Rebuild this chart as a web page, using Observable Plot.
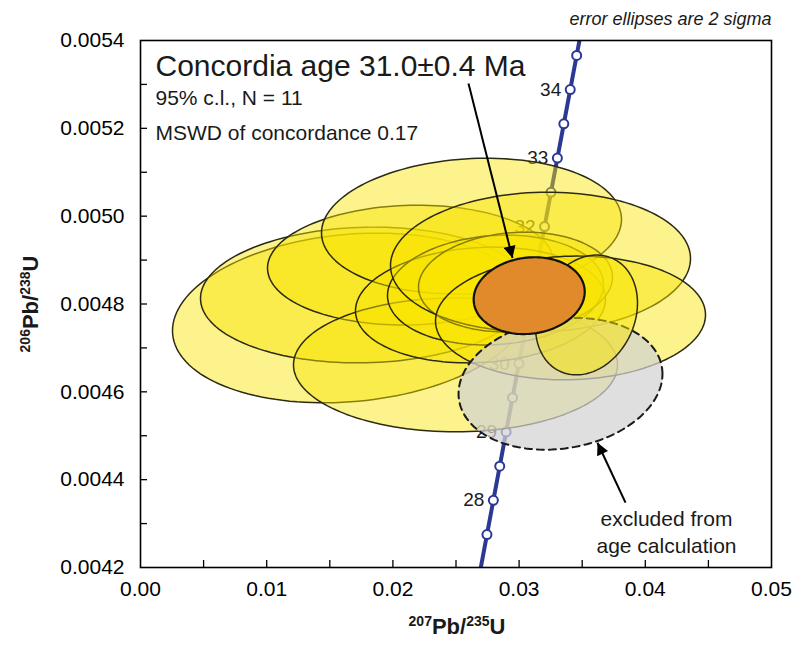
<!DOCTYPE html>
<html><head><meta charset="utf-8">
<script src="https://cdn.jsdelivr.net/npm/d3@7"></script>
<script src="https://cdn.jsdelivr.net/npm/@observablehq/plot@0.6"></script>
<style>
body{margin:0;background:#fff;}
#chart{width:793px;height:646px;}
</style></head><body><div id="chart"></div>
<script>
// Axis ticks
const xTicks = [0, 0.01, 0.02, 0.03, 0.04, 0.05];
const xAllTicks = [0.005, 0.01, 0.015, 0.02, 0.025, 0.03, 0.035, 0.04, 0.045];
const yTicks = [0.0042, 0.0044, 0.0046, 0.0048, 0.0050, 0.0052, 0.0054];
const yAllTicks = [0.0043, 0.0044, 0.0045, 0.0046, 0.0047, 0.0048, 0.0049, 0.0050, 0.0051, 0.0052, 0.0053];

// Concordia curve (age in Ma, 207Pb/235U, 206Pb/238U)
const concAges = [27.0, 27.5, 28.0, 28.5, 29.0, 29.5, 30.0, 30.5, 31.0, 31.5, 32.0, 32.5, 33.0, 33.5, 34.0, 34.5, 35.0];
const concX = [0.026948, 0.027453, 0.027960, 0.028466, 0.028972, 0.029479, 0.029986, 0.030494, 0.031001, 0.031509, 0.032017, 0.032525, 0.033034, 0.033543, 0.034052, 0.034561, 0.035071];
const concY = [0.0041972, 0.0042750, 0.0043529, 0.0044308, 0.0045088, 0.0045867, 0.0046646, 0.0047425, 0.0048204, 0.0048984, 0.0049763, 0.0050543, 0.0051322, 0.0052102, 0.0052882, 0.0053661, 0.0054441];
const markerAges = [27.5, 28.0, 28.5, 29.0, 29.5, 30.0, 30.5, 31.0, 31.5, 32.0, 32.5, 33.0, 33.5, 34.0, 34.5];
const labelAges = [28, 29, 30, 31, 32, 33, 34];

// Error ellipses (2 sigma): centre x, centre y, half-width x, half-height y, rho
const ellipseCx  = [0.016640, 0.017829, 0.021395, 0.026228, 0.024960, 0.026941, 0.028130, 0.029715, 0.031696, 0.034073];
const ellipseCy  = [0.0047682, 0.0048205, 0.0048886, 0.0049773, 0.0046614, 0.0047977, 0.0048318, 0.0048500, 0.0048955, 0.0047682];
const ellipseSx  = [0.014105, 0.013074, 0.011331, 0.011886, 0.012837, 0.009905, 0.008558, 0.007686, 0.011886, 0.010697];
const ellipseSy  = [0.00019318, 0.00015455, 0.00013636, 0.00015455, 0.00015227, 0.00013182, 0.000125, 0.00011364, 0.00015909, 0.00014091];
const ellipseRho = [0.15, 0.05, 0.05, 0.10, 0.0, 0.10, 0.10, 0.10, 0.05, 0.05];
// Ellipse drawn above the excluded one
const topEllipse = [0.035341, 0.0047750, 0.004041, 0.00013636, 0.2];

// Excluded analysis
const excluded = [0.033281, 0.0046182, 0.00808, 0.00015, 0.15];
// Concordia age ellipse
const concordiaAge = [0.030800, 0.0048190, 0.00440, 0.0000875, 0.10];

// Annotations
const arrowX1 = [0.02599, 0.038431];
const arrowY1 = [0.0053023, 0.0043477];
const arrowX2 = [0.029477, 0.036212];
const arrowY2 = [0.0049045, 0.0044841];
const noteText = ["excluded from\nage calculation"];
const noteX = [0.04168];
const noteY = [0.0042830];

function ellipsePoints(cx, cy, sx, sy, rho) {
  const pts = [];
  cx.forEach((_, i) => {
    const k = Math.sqrt(1 - rho[i] * rho[i]);
    for (let j = 0; j < 144; j++) {
      const t = 2 * Math.PI * j / 144;
      pts.push({id: i, x: cx[i] + sx[i] * Math.cos(t), y: cy[i] + sy[i] * (rho[i] * Math.cos(t) + k * Math.sin(t))});
    }
  });
  return pts;
}
const one = e => ellipsePoints([e[0]], [e[1]], [e[2]], [e[3]], [e[4]]);
const yellowPts = ellipsePoints(ellipseCx, ellipseCy, ellipseSx, ellipseSy, ellipseRho);
const topPts = one(topEllipse);
const grayPts = one(excluded);
const orangePts = one(concordiaAge);

const conc = concAges.map((a, i) => ({age: a, x: concX[i], y: concY[i]}));
const markers = conc.filter(d => markerAges.includes(d.age));
const labels = conc.filter(d => labelAges.includes(d.age));
const arrows = arrowX1.map((d, i) => ({x1: d, y1: arrowY1[i], x2: arrowX2[i], y2: arrowY2[i]}));
const notes = noteText.map((t, i) => ({text: t, x: noteX[i], y: noteY[i]}));

const blue = "#2b3994";
const font = "'Liberation Sans', Arial, sans-serif";
const yellowStyle = {x: "x", y: "y", z: "id", fill: "#F8E400", fillOpacity: 0.45, stroke: "#2d2a14", strokeWidth: 1.5, curve: "linear-closed"};

const plot = Plot.plot({
  width: 793, height: 646,
  marginLeft: 140, marginRight: 22, marginTop: 40, marginBottom: 79,
  x: {domain: [0, 0.05]},
  y: {domain: [0.0042, 0.0054]},
  style: {fontFamily: font, background: "white", color: "black"},
  marks: [
    Plot.line(conc, {x: "x", y: "y", stroke: blue, strokeWidth: 4, clip: true}),
    Plot.dot(markers, {x: "x", y: "y", r: 4.5, fill: "white", stroke: blue, strokeWidth: 2}),
    Plot.text(labels, {x: "x", y: "y", text: d => String(d.age), dx: -9, textAnchor: "end", fontSize: 19, fill: "#1a1a1a"}),
    Plot.line(yellowPts, yellowStyle),
    Plot.line(grayPts, {x: "x", y: "y", z: "id", fill: "#d2d2d2", fillOpacity: 0.72, stroke: "#1a1a1a", strokeWidth: 2, strokeDasharray: "7,5", curve: "linear-closed"}),
    Plot.line(topPts, {...yellowStyle, fillOpacity: 0.5}),
    Plot.line(orangePts, {x: "x", y: "y", z: "id", fill: "#E08A2C", stroke: "#111", strokeWidth: 2.2, curve: "linear-closed"}),
    Plot.link(arrows, {x1: "x1", y1: "y1", x2: "x2", y2: "y2", stroke: "black", strokeWidth: 2, className: "annot-arrow"}),
    Plot.text(notes, {x: "x", y: "y", text: "text", fontSize: 21, lineHeight: 1.25, fill: "#1a1a1a"}),
    Plot.text(["Concordia age 31.0±0.4 Ma"], {frameAnchor: "top-left", dx: 15, dy: 35, lineAnchor: "bottom", textAnchor: "start", fontSize: 30, fill: "#1a1a1a"}),
    Plot.text(["95% c.l., N = 11"], {frameAnchor: "top-left", dx: 15, dy: 64, lineAnchor: "bottom", textAnchor: "start", fontSize: 21, fill: "#1a1a1a"}),
    Plot.text(["MSWD of concordance 0.17"], {frameAnchor: "top-left", dx: 15, dy: 99, lineAnchor: "bottom", textAnchor: "start", fontSize: 21, fill: "#1a1a1a"}),
    Plot.text(["error ellipses are 2 sigma"], {frameAnchor: "top-right", dx: 0, dy: -16, lineAnchor: "bottom", textAnchor: "end", fontSize: 18, fontStyle: "italic", fill: "#1a1a1a"}),
    Plot.tickX(xAllTicks, {x: d => d, stroke: "black", strokeWidth: 1.3, insetTop: 520}),
    Plot.tickY(yAllTicks, {y: d => d, stroke: "black", strokeWidth: 1.3, insetRight: 624}),
    Plot.axisX({ticks: xTicks, tickSize: 0, tickPadding: 14, tickFormat: d3.format(".2f"), fontSize: 21, label: null}),
    Plot.axisY({ticks: yTicks, tickSize: 0, tickPadding: 16, tickFormat: d3.format(".4f"), fontSize: 21, label: null}),
    Plot.frame({stroke: "black", strokeWidth: 1.6})
  ]
});

const svg = d3.select(plot);
// filled arrow heads
svg.append("defs").append("marker")
  .attr("id", "filled-head").attr("viewBox", "0 0 10 10").attr("refX", 10).attr("refY", 5)
  .attr("markerWidth", 7).attr("markerHeight", 6).attr("orient", "auto")
  .append("path").attr("d", "M0,0 L10,5 L0,10 z").attr("fill", "black");
svg.selectAll(".annot-arrow path").attr("marker-end", "url(#filled-head)");

const xl = svg.append("text").attr("x", 457).attr("y", 634).attr("text-anchor", "middle")
  .attr("font-weight", "bold").attr("font-size", 22).attr("font-family", font).attr("fill", "#1a1a1a");
xl.append("tspan").attr("font-size", 14).attr("dy", -8).text("207");
xl.append("tspan").attr("dy", 8).text("Pb/");
xl.append("tspan").attr("font-size", 14).attr("dy", -8).text("235");
xl.append("tspan").attr("dy", 8).text("U");

const yl = svg.append("text").attr("transform", "translate(38,304) rotate(-90)").attr("text-anchor", "middle")
  .attr("font-weight", "bold").attr("font-size", 22).attr("font-family", font).attr("fill", "#1a1a1a");
yl.append("tspan").attr("font-size", 14).attr("dy", -8).text("206");
yl.append("tspan").attr("dy", 8).text("Pb/");
yl.append("tspan").attr("font-size", 14).attr("dy", -8).text("238");
yl.append("tspan").attr("dy", 8).text("U");

document.getElementById("chart").appendChild(plot);
</script>
</body></html>
